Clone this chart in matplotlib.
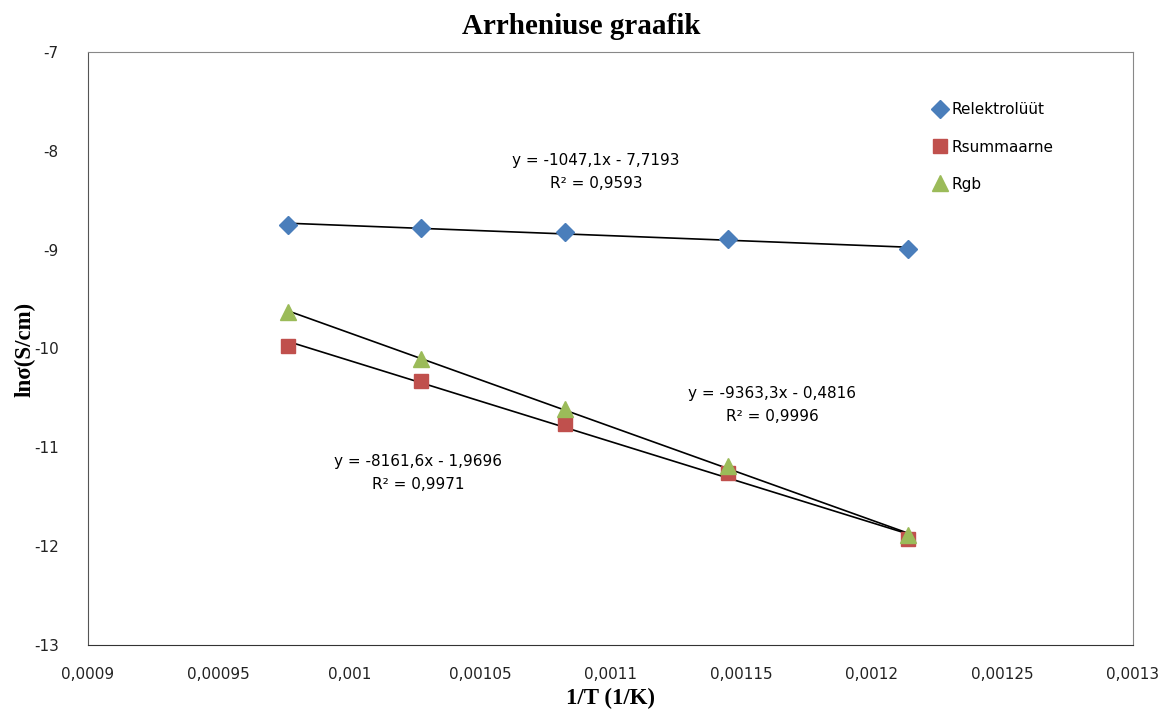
import numpy as np
import matplotlib
matplotlib.use("Agg")
import matplotlib.pyplot as plt
from matplotlib.ticker import FuncFormatter, MultipleLocator

# 1/T values (T = 1023 ... 823 K)
inv_t = [0.0009766, 0.0010275, 0.0010826, 0.0011450, 0.0012139]

# ln(sigma)
relektroluut = [-8.751, -8.781, -8.822, -8.893, -8.994]
rsummaarne = [-9.976, -10.33, -10.765, -11.26, -11.93]
rgb = [-9.63, -10.107, -10.613, -11.19, -11.89]

series_names = ["Relektrolüüt", "Rsummaarne", "Rgb"]
fit_labels = [
    "y = -1047,1x - 7,7193\nR² = 0,9593",
    "y = -8161,6x - 1,9696\nR² = 0,9971",
    "y = -9363,3x - 0,4816\nR² = 0,9996",
]

fig = plt.figure(figsize=(11.63, 7.2), dpi=100)
ax = fig.add_axes([0.0757, 0.104, 0.8985, 0.824])

styles = [("D", "#4a7ebb", 9), ("s", "#c0504d", 10), ("^", "#9bbb59", 11)]
x = np.array(inv_t)
for ys, name, (m, c, s) in zip([relektroluut, rsummaarne, rgb], series_names, styles):
    ax.plot(x, ys, linestyle="none", marker=m, color=c, markersize=s,
            markeredgecolor=c, label=name, zorder=3)
    # linear trendline
    k, b = np.polyfit(x, ys, 1)
    ax.plot(x, k * x + b, color="black", lw=1.2, zorder=2)

ax.set_xlim(0.0009, 0.0013)
ax.set_ylim(-13, -7)
ax.xaxis.set_major_locator(MultipleLocator(0.00005))
ax.yaxis.set_major_locator(MultipleLocator(1))

def comma(v, pos):
    return ("%g" % round(v, 6)).replace(".", ",")

ax.xaxis.set_major_formatter(FuncFormatter(comma))
ax.yaxis.set_major_formatter(FuncFormatter(comma))
ax.tick_params(length=0, labelsize=11, colors="#222222")
ax.tick_params(axis="x", pad=16)
ax.tick_params(axis="y", pad=21)
for sp in ax.spines.values():
    sp.set_color("#888888")
ax.spines["left"].set_color("#555555")
ax.spines["bottom"].set_color("#333333")

fig.text(0.5, 1 - 26 / 720, "Arrheniuse graafik", fontfamily="Liberation Serif",
         fontweight="bold", fontsize=21, ha="center", va="center")
ax.set_xlabel("1/T (1/K)", fontfamily="Liberation Serif", fontweight="bold",
              fontsize=16.5, labelpad=4)
fig.text(25 / 1163, 1 - 349 / 720, "lnσ(S/cm)", fontfamily="Liberation Serif",
         fontweight="bold", fontsize=16.5, rotation=90, ha="center", va="center")

# equation labels
ax.text(596 / 1163, 1 - 172 / 720, fit_labels[0], transform=fig.transFigure,
        ha="center", va="center", fontsize=11, linespacing=1.7)
ax.text(418 / 1163, 1 - 473 / 720, fit_labels[1], transform=fig.transFigure,
        ha="center", va="center", fontsize=11, linespacing=1.7)
ax.text(772 / 1163, 1 - 405 / 720, fit_labels[2], transform=fig.transFigure,
        ha="center", va="center", fontsize=11, linespacing=1.7)

ax.legend(loc="upper left", bbox_to_anchor=(0.793, 0.938), frameon=False,
          fontsize=11, handletextpad=0.2, labelspacing=1.45, handlelength=1.2)

fig.savefig("out.png", dpi=100)
